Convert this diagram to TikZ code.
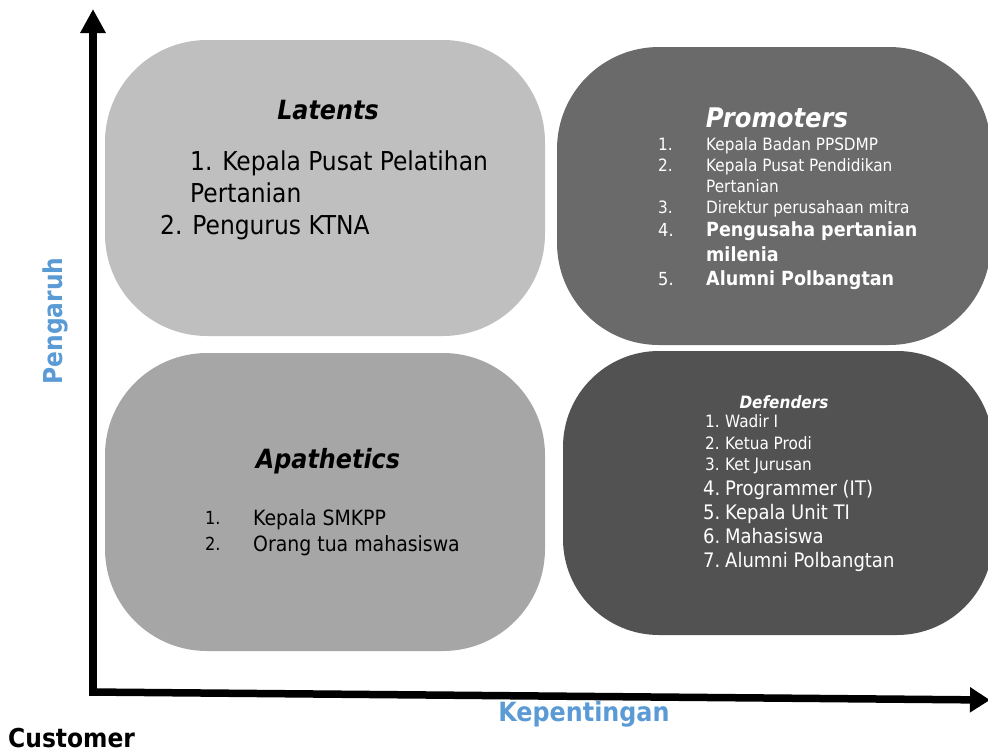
\documentclass[tikz,border=0pt]{standalone}
\usepackage{fontspec}
\setmainfont{DejaVu Sans Condensed}
\usetikzlibrary{arrows.meta}
\definecolor{axisblue}{HTML}{5B9BD5}
\definecolor{latc}{HTML}{BFBFBF}
\definecolor{apac}{HTML}{A6A6A6}
\definecolor{proc}{HTML}{6A6A6A}
\definecolor{defc}{HTML}{525252}
\tikzset{
  quad/.style={rounded corners=102pt, inner sep=0pt, draw=none},
  txt/.style={inner sep=0pt, anchor=west, execute at begin node={\vphantom{Pgy}}},
  ttl/.style={inner sep=0pt},
  axisline/.style={line width=7.5pt, draw=black},
}
\newcommand{\fs}[1]{\fontsize{#1}{#1}\selectfont}
\begin{document}
\begin{tikzpicture}[x=1pt,y=-1pt]
\useasboundingbox (0,0) rectangle (988,753);
% boxes
\node[quad, fill=latc, minimum width=440pt, minimum height=296pt] (lat) at (325,188) {};
\node[quad, fill=proc, minimum width=434pt, minimum height=298pt] (pro) at (774,196) {};
\node[quad, fill=apac, minimum width=440pt, minimum height=298pt] (apa) at (325,502) {};
\node[quad, rounded corners=96pt, fill=defc, minimum width=430pt, minimum height=284pt] (def) at (778,493) {};
% axes
\coordinate (o) at (93,692);
\coordinate (ytip) at (93,9);
\coordinate (xtip) at (990,700);
\draw[axisline, -{Triangle[width=24pt,length=24pt]}] (o) -- (ytip);
\draw[axisline, -{Triangle[width=24pt,length=20pt]}] ([xshift=-3.75pt]o) -- (xtip);
% axis labels
\node[inner sep=0pt, rotate=90, text=axisblue, font=\fs{26}\bfseries] (yl) at (55,321) {Pengaruh};
\node[inner sep=0pt, text=axisblue, font=\fs{26.5}\bfseries] (xl) at (584,714) {Kepentingan};
\node[inner sep=0pt, anchor=west, font=\fs{26}\bfseries] (cust) at (8,738) {Customer};
% Latents
\node[ttl, font=\fs{26.5}\bfseries\itshape] (latt) at (328,110) {Latents};
\node[txt, font=\fs{26}] (l1) at (190,163) {1. Kepala Pusat Pelatihan};
\node[txt, font=\fs{26}] (l1b) at (190,195) {Pertanian};
\node[txt, font=\fs{26}] (l2) at (160,228) {2. Pengurus KTNA};
% Promoters
\node[ttl, text=white, font=\fs{27}\bfseries\itshape] (prot) at (777,118) {Promoters};
\begin{scope}[every node/.style={txt, text=white}]
\node[font=\fs{17}] (pn1) at (658,146) {1.};
\node[font=\fs{17}] (pt1) at (706,146) {Kepala Badan PPSDMP};
\node[font=\fs{17}] (pn2) at (658,167) {2.};
\node[font=\fs{17}] (pt2) at (706,167) {Kepala Pusat Pendidikan};
\node[font=\fs{17}] (pt2b) at (706,188) {Pertanian};
\node[font=\fs{17}] (pn3) at (658,209) {3.};
\node[font=\fs{17}] (pt3) at (706,209) {Direktur perusahaan mitra};
\node[font=\fs{18}] (pn4) at (658,232) {4.};
\node[font=\fs{19.5}\bfseries] (pt4) at (706,231) {Pengusaha pertanian};
\node[font=\fs{19.5}\bfseries] (pt4b) at (706,256) {milenia};
\node[font=\fs{18}] (pn5) at (658,281) {5.};
\node[font=\fs{19.5}\bfseries] (pt5) at (706,280) {Alumni Polbangtan};
\end{scope}
% Apathetics
\node[ttl, font=\fs{26.5}\bfseries\itshape] (apat) at (328,461) {Apathetics};
\node[txt, font=\fs{18}] (an1) at (205,520) {1.};
\node[txt, font=\fs{21}] (at1) at (253,520) {Kepala SMKPP};
\node[txt, font=\fs{18}] (an2) at (205,546) {2.};
\node[txt, font=\fs{21}] (at2) at (253,546) {Orang tua mahasiswa};
% Defenders
\node[ttl, text=white, font=\fs{17}\bfseries\itshape] (deft) at (784,402) {Defenders};
\begin{scope}[every node/.style={txt, text=white}]
\node[font=\fs{17}] (dn1) at (705,423) {1.};
\node[font=\fs{17}] (dt1) at (725,423) {Wadir I};
\node[font=\fs{17}] (dn2) at (705,445) {2.};
\node[font=\fs{17}] (dt2) at (725,445) {Ketua Prodi};
\node[font=\fs{17}] (dn3) at (705,466) {3.};
\node[font=\fs{17}] (dt3) at (725,466) {Ket Jurusan};
\node[font=\fs{20}] (dn4) at (703,490) {4.};
\node[font=\fs{20}] (dt4) at (725,490) {Programmer (IT)};
\node[font=\fs{20}] (dn5) at (703,514) {5.};
\node[font=\fs{20}] (dt5) at (725,514) {Kepala Unit TI};
\node[font=\fs{20}] (dn6) at (703,538) {6.};
\node[font=\fs{20}] (dt6) at (725,538) {Mahasiswa};
\node[font=\fs{20}] (dn7) at (703,562) {7.};
\node[font=\fs{20}] (dt7) at (725,562) {Alumni Polbangtan};
\end{scope}
\end{tikzpicture}
\end{document}
